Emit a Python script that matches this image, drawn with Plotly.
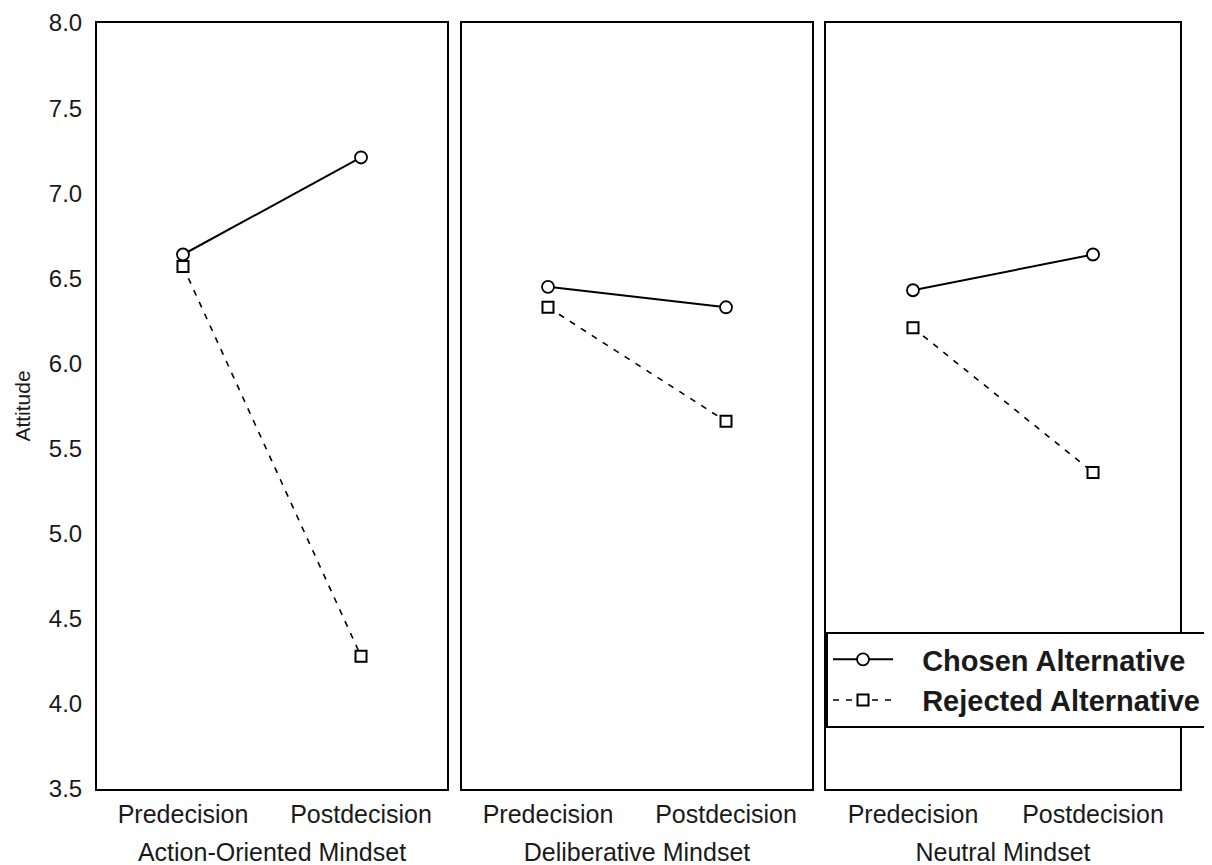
import plotly.graph_objects as go

categories = ["Predecision", "Postdecision"]
panel_titles = ["Action-Oriented Mindset", "Deliberative Mindset", "Neutral Mindset"]
chosen_action = [6.64, 7.21]
rejected_action = [6.57, 4.28]
chosen_delib = [6.45, 6.33]
rejected_delib = [6.33, 5.66]
chosen_neutral = [6.43, 6.64]
rejected_neutral = [6.21, 5.36]
y_ticks = [3.5, 4.0, 4.5, 5.0, 5.5, 6.0, 6.5, 7.0, 7.5, 8.0]

chosen = [chosen_action, chosen_delib, chosen_neutral]
rejected = [rejected_action, rejected_delib, rejected_neutral]

W, H = 1212, 865
OFF = 8  # page body offset
L, R, T, B = 97 - OFF, 40, 23 - OFF, 84
pw = W - L - R
ph = H - T - B
panel_px = [(97, 447), (462, 812), (826, 1180)]
domains = [[(a - 97) / pw, (b - 97) / pw] for a, b in panel_px]

FONT = "Liberation Sans, Arial, sans-serif"
NB = "\u00a0\u00a0\u00a0"
fig = go.Figure()

for i in range(3):
    xa = "x" if i == 0 else f"x{i+1}"
    ya = "y" if i == 0 else f"y{i+1}"
    fig.add_trace(go.Scatter(
        x=categories, y=rejected[i], mode="lines+markers", name=NB + "Rejected Alternative",
        line=dict(color="black", width=1.6, dash="6px,7px"),
        marker=dict(symbol="square", size=11, color="white", line=dict(color="black", width=2)),
        xaxis=xa, yaxis=ya, showlegend=(i == 0), legendrank=2))
    fig.add_trace(go.Scatter(
        x=categories, y=chosen[i], mode="lines+markers", name=NB + "Chosen Alternative",
        line=dict(color="black", width=2),
        marker=dict(symbol="circle", size=12, color="white", line=dict(color="black", width=1.8)),
        xaxis=xa, yaxis=ya, showlegend=(i == 0), legendrank=1))

axis_common = dict(showline=True, mirror=True, linecolor="black", linewidth=2,
                   showgrid=False, zeroline=False, automargin=False)
layout = dict(
    width=W, height=H,
    margin=dict(l=L, r=R, t=T, b=B, autoexpand=False),
    paper_bgcolor="white", plot_bgcolor="white",
    font=dict(family=FONT, color="#1a1a1a", size=25),
    legend=dict(x=(826 - 97) / pw, y=1 - (632 - 23) / ph, xanchor="left", yanchor="top",
                bgcolor="white", bordercolor="black", borderwidth=2,
                font=dict(family=FONT, size=29, color="#1a1a1a", weight="bold"),
                itemwidth=60, tracegroupgap=0, traceorder="normal"),
)
for i in range(3):
    key = "" if i == 0 else str(i + 1)
    layout[f"xaxis{key}"] = dict(
        domain=domains[i], type="category", range=[-0.483, 1.483],
        anchor="y" + key, ticks="outside", ticklen=2, tickcolor="white",
        tickfont=dict(size=25),
        title=dict(text=panel_titles[i], font=dict(size=25), standoff=16),
        **axis_common)
    layout[f"yaxis{key}"] = dict(
        domain=[0, 1], range=[3.5, 8.0], anchor="x" + key,
        tickvals=y_ticks, ticktext=[f"{v:.1f}" for v in y_ticks],
        showticklabels=(i == 0), ticks="outside" if i == 0 else "", ticklen=8, tickcolor="white",
        tickfont=dict(size=24),
        title=dict(text="Attitude" if i == 0 else "", font=dict(size=21), standoff=12),
        **axis_common)

fig.update_layout(**layout)
fig.write_html("out.html")
